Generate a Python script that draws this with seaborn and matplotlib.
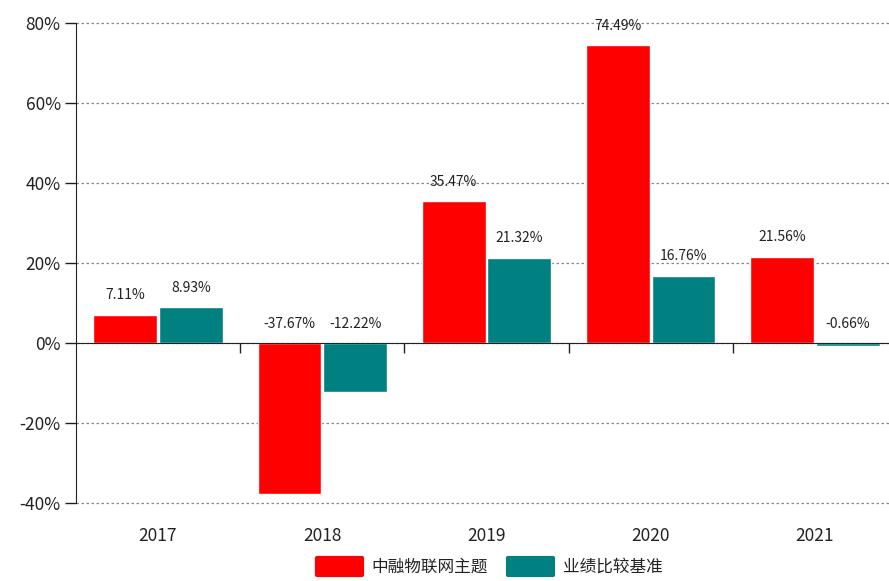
import matplotlib
matplotlib.use("Agg")
import matplotlib.pyplot as plt
import seaborn as sns
import pandas as pd

# chart data (percent)
years = ["2017", "2018", "2019", "2020", "2021"]
fund = [7.11, -37.67, 35.47, 74.49, 21.56]
bench = [8.93, -12.22, 21.32, 16.76, -0.66]
series_names = ["中融物联网主题", "业绩比较基准"]
colors = ["#FF0000", "#008080"]

df = pd.DataFrame({
    "year": years * 2,
    "value": fund + bench,
    "series": [series_names[0]] * len(years) + [series_names[1]] * len(years),
})

sns.set_style("white")
plt.rcParams["font.family"] = ["Noto Sans CJK SC", "DejaVu Sans"]

fig = plt.figure(figsize=(8.89, 5.81), dpi=100)
ax = fig.add_axes([0.0855, 0.1343, 0.9235, 0.826])

sns.barplot(data=df, x="year", y="value", hue="series", order=years,
            hue_order=series_names, palette=dict(zip(series_names, colors)),
            width=0.8, gap=0.03, saturation=1, ax=ax)

ax.set_xlim(-0.5, 4.5)
ax.set_ylim(-40, 80)
ax.set_yticks(range(-40, 81, 20))
ax.set_yticklabels([f"{v}%" for v in range(-40, 81, 20)], fontsize=12.5, color="#222")
ax.yaxis.grid(True, color="#888888", linestyle=(0, (2, 2)), linewidth=0.9)
for gl in ax.get_ygridlines():
    gl.set_clip_on(False)
ax.set_axisbelow(True)
ax.set_xlabel("")
ax.set_ylabel("")

for s in ["top", "right"]:
    ax.spines[s].set_visible(False)
ax.spines["left"].set_color("#222")
ax.spines["bottom"].set_color("#222")
ax.spines["bottom"].set_position(("data", 0))
ax.tick_params(axis="y", left=True, length=8, width=1, color="#222",
               direction="out", pad=3)

# boundary ticks on the zero line
ax.set_xticks([0.5, 1.5, 2.5, 3.5], labels=[""] * 4)
ax.tick_params(axis="x", bottom=True, length=7, width=1, color="#222",
               direction="out")

# year labels at the bottom
sec = ax.secondary_xaxis(0)
sec.set_xticks(range(len(years)), labels=years)
sec.tick_params(length=0, pad=17, labelsize=12.5, labelcolor="#222")
sec.spines["bottom"].set_visible(False)

# value labels
for cont in ax.containers:
    for bar, v in zip(cont, cont.datavalues):
        x = bar.get_x() + bar.get_width() / 2
        ax.annotate(f"{v:.2f}%", (x, max(v, 0)), xytext=(0, 9),
                    textcoords="offset points", ha="center", va="bottom",
                    fontsize=10, color="#222", clip_on=False)

sns.move_legend(ax, "center", bbox_to_anchor=(0.504, -0.133), ncol=2,
                frameon=False, title=None, fontsize=12, handlelength=2.7,
                handleheight=1.2, columnspacing=1.2, handletextpad=0.6)
leg = ax.get_legend()
for h in leg.legend_handles:
    h.set_edgecolor(h.get_facecolor())
    h.set_linewidth(3)
    h.set_joinstyle("round")
for t in leg.get_texts():
    t.set_color("#222")

fig.savefig("out.png", dpi=100)
